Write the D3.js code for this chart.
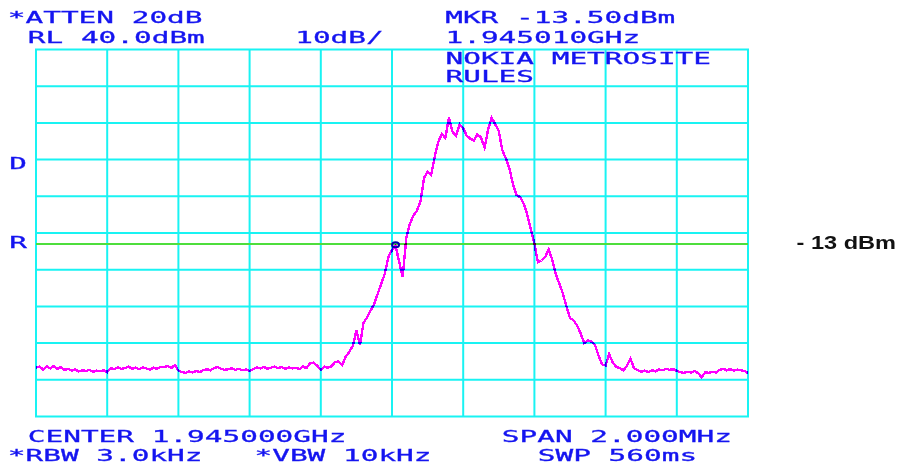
<!DOCTYPE html>
<html>
<head>
<meta charset="utf-8">
<script src="https://cdn.jsdelivr.net/npm/d3@7"></script>
<style>
  body { margin: 0; background: #fff; }
  svg { display: block; }
</style>
</head>
<body>
<div id="chart-area"></div>
<script>
// spectrum analyser screen shot

// sweep settings
const centerMHz = 1945.0;
const spanMHz = 2.0;
const refLevel = 40;      // dBm at top line
const dbPerDiv = 10;
const divisions = 10;

// marker + reference line
const markerMHz = 1945.010;
const markerLevel = -13.5;
const displayLine = -13;

// trace, 201 points across the span (dBm)
const traceLevels = [
  -46.7, -46.4, -47.2, -46.3, -46.9, -46.2, -47.0, -46.5, -47.3, -47.0,
  -47.5, -47.2, -47.7, -47.4, -47.6, -47.3, -47.8, -47.5, -47.7, -47.4,
  -47.9, -46.8, -47.1, -46.6, -47.0, -46.8, -46.4, -47.0, -46.7, -47.1,
  -46.6, -46.9, -47.2, -46.7, -47.0, -46.5, -46.6, -46.2, -46.8, -46.0,
  -47.5, -47.9, -48.1, -47.7, -48.0, -47.6, -47.9, -47.4, -47.1, -47.4,
  -46.8, -46.5, -47.0, -47.3, -47.1, -46.9, -47.3, -47.0, -47.4, -47.2,
  -47.6, -47.1, -46.6, -46.9, -46.5, -47.0, -46.7, -46.4, -46.8, -46.5,
  -47.0, -46.6, -46.9, -46.7, -47.1, -46.4, -46.8, -45.5, -45.3, -46.2,
  -47.3, -46.4, -46.7, -46.3, -45.2, -45.0, -46.0, -43.7, -42.4, -40.7,
  -36.6, -40.5, -34.5, -33.0, -31.1, -29.4, -26.5, -23.8, -21.0, -16.5,
  -14.6, -13.5, -17.8, -22.0, -11.5, -7.5, -5.3, -3.9, -1.5, 5.0,
  6.8, 5.8, 10.8, 14.8, 17.0, 15.9, 21.5, 17.6, 16.5, 19.6,
  18.5, 16.5, 15.7, 15.2, 16.9, 16.0, 13.3, 18.2, 21.4, 19.6,
  17.8, 12.5, 10.3, 7.5, 3.2, 0.3, -0.2, -2.0, -5.0, -9.0,
  -12.9, -18.0, -17.5, -16.6, -14.5, -17.2, -21.2, -23.8, -26.5, -30.0,
  -33.2, -33.8, -35.2, -37.4, -40.0, -39.3, -39.6, -40.4, -43.3, -45.8,
  -46.1, -43.0, -45.3, -46.5, -46.8, -47.5, -46.2, -44.3, -46.9, -47.3,
  -47.8, -47.5, -47.9, -47.4, -47.7, -47.2, -47.4, -47.0, -47.3, -47.1,
  -47.6, -47.9, -48.1, -47.8, -48.0, -47.6, -48.2, -49.3, -48.0, -48.1,
  -47.8, -48.0, -47.3, -47.0, -47.4, -47.1, -47.5, -47.2, -47.4, -47.6,
  -48.2
];

// screen annotations
const topLeftLines = ['*ATTEN 20dB', 'RL 40.0dBm'];
const scaleText = '10dB/';
const markerLines = ['MKR -13.50dBm', '1.945010GHz'];
const titleLines = ['NOKIA METROSITE', 'RULES'];
const sideMarks = ['D', 'R'];
const bottomLeftLines = ['CENTER 1.945000GHz', '*RBW 3.0kHz'];
const vbwText = '*VBW 10kHz';
const bottomRightLines = ['SPAN 2.000MHz', 'SWP 560ms'];
const lineLabel = '- 13 dBm';

const W = 901, H = 469;
const plot = { left: 36, right: 748, top: 49.5, bottom: 416.5 };
const pitch = 17.7;   // character cell width of the screen font

const svg = d3.select('#chart-area').append('svg')
  .attr('width', W)
  .attr('height', H);

svg.append('rect').attr('width', W).attr('height', H).attr('fill', '#fff');

// scales
const x = d3.scaleLinear()
  .domain([centerMHz - spanMHz / 2, centerMHz + spanMHz / 2])
  .range([plot.left, plot.right]);

const y = d3.scaleLinear()
  .domain([refLevel - dbPerDiv * divisions, refLevel])
  .range([plot.bottom, plot.top]);

// graticule
const gridColor = '#19f3f3';
const xTicks = d3.range(divisions + 1).map(i => x.domain()[0] + i * spanMHz / divisions);
const yTicks = d3.range(divisions + 1).map(i => refLevel - i * dbPerDiv);

const grid = svg.append('g').attr('class', 'grid');
grid.selectAll('line.v')
  .data(xTicks)
  .enter().append('line')
  .attr('class', 'v')
  .attr('x1', d => x(d)).attr('x2', d => x(d))
  .attr('y1', plot.top).attr('y2', plot.bottom)
  .attr('stroke', gridColor).attr('stroke-width', 2);

grid.selectAll('line.h')
  .data(yTicks)
  .enter().append('line')
  .attr('class', 'h')
  .attr('y1', d => y(d)).attr('y2', d => y(d))
  .attr('x1', plot.left - 1).attr('x2', plot.right + 1)
  .attr('stroke', gridColor).attr('stroke-width', 2);

// display line
svg.append('line')
  .attr('x1', plot.left).attr('x2', plot.right)
  .attr('y1', y(displayLine)).attr('y2', y(displayLine))
  .attr('stroke', '#4ede3c').attr('stroke-width', 2);

// trace
const stepMHz = spanMHz / (traceLevels.length - 1);
const traceData = traceLevels.map((v, i) => ({ f: x.domain()[0] + i * stepMHz, v: v }));

const line = d3.line()
  .x(d => x(d.f))
  .y(d => y(d.v));

svg.append('path')
  .datum(traceData)
  .attr('d', line)
  .attr('fill', 'none')
  .attr('stroke', '#ff00ff')
  .attr('stroke-width', 2.4)
  .attr('stroke-linejoin', 'miter')
  .attr('shape-rendering', 'crispEdges')
  .style('mix-blend-mode', 'multiply');

// marker
svg.append('ellipse')
  .attr('cx', x(markerMHz))
  .attr('cy', y(markerLevel) - 1)
  .attr('rx', 3.5).attr('ry', 2.5)
  .attr('fill', 'none')
  .attr('stroke', '#0000b0')
  .attr('stroke-width', 2);

// screen text (blue, stretched mono font)
const blue = '#1414f0';
const labels = [
  { t: topLeftLines[0], x: 9.3, y: 23.3 },
  { t: topLeftLines[1], x: 29.3, y: 42.7 },
  { t: scaleText, x: 296.7, y: 42.7 },
  { t: markerLines[0], x: 446.7, y: 23.3 },
  { t: markerLines[1], x: 447, y: 42.7 },
  { t: titleLines[0], x: 447, y: 64.3 },
  { t: titleLines[1], x: 447, y: 82.3 },
  { t: sideMarks[0], x: 10.7, y: 169.3 },
  { t: sideMarks[1], x: 10.7, y: 248.3 },
  { t: bottomLeftLines[0], x: 29.3, y: 442.3 },
  { t: bottomLeftLines[1], x: 9.3, y: 461 },
  { t: vbwText, x: 256, y: 461 },
  { t: bottomRightLines[0], x: 503.3, y: 442.3 },
  { t: bottomRightLines[1], x: 539.3, y: 461 }
];

svg.append('g').attr('class', 'screen-text')
  .selectAll('text')
  .data(labels)
  .enter().append('text')
  .attr('x', d => d.x - 1.5)
  .attr('y', d => d.y)
  .attr('font-family', '"DejaVu Sans Mono", "Liberation Mono", monospace')
  .attr('font-size', '16.5px')
  .attr('fill', blue)
  .attr('stroke', blue)
  .attr('stroke-width', 0.3)
  .attr('textLength', d => d.t.length * pitch)
  .attr('lengthAdjust', 'spacingAndGlyphs')
  .style('white-space', 'pre')
  .text(d => d.t);

// display line label
svg.append('text')
  .attr('x', 796.5)
  .attr('y', 249.3)
  .attr('font-family', '"Liberation Sans", Arial, sans-serif')
  .attr('font-weight', 'bold')
  .attr('font-size', '17.5px')
  .attr('fill', '#111')
  .attr('textLength', 99.5)
  .attr('lengthAdjust', 'spacingAndGlyphs')
  .style('white-space', 'pre')
  .text(lineLabel);
</script>
</body>
</html>
